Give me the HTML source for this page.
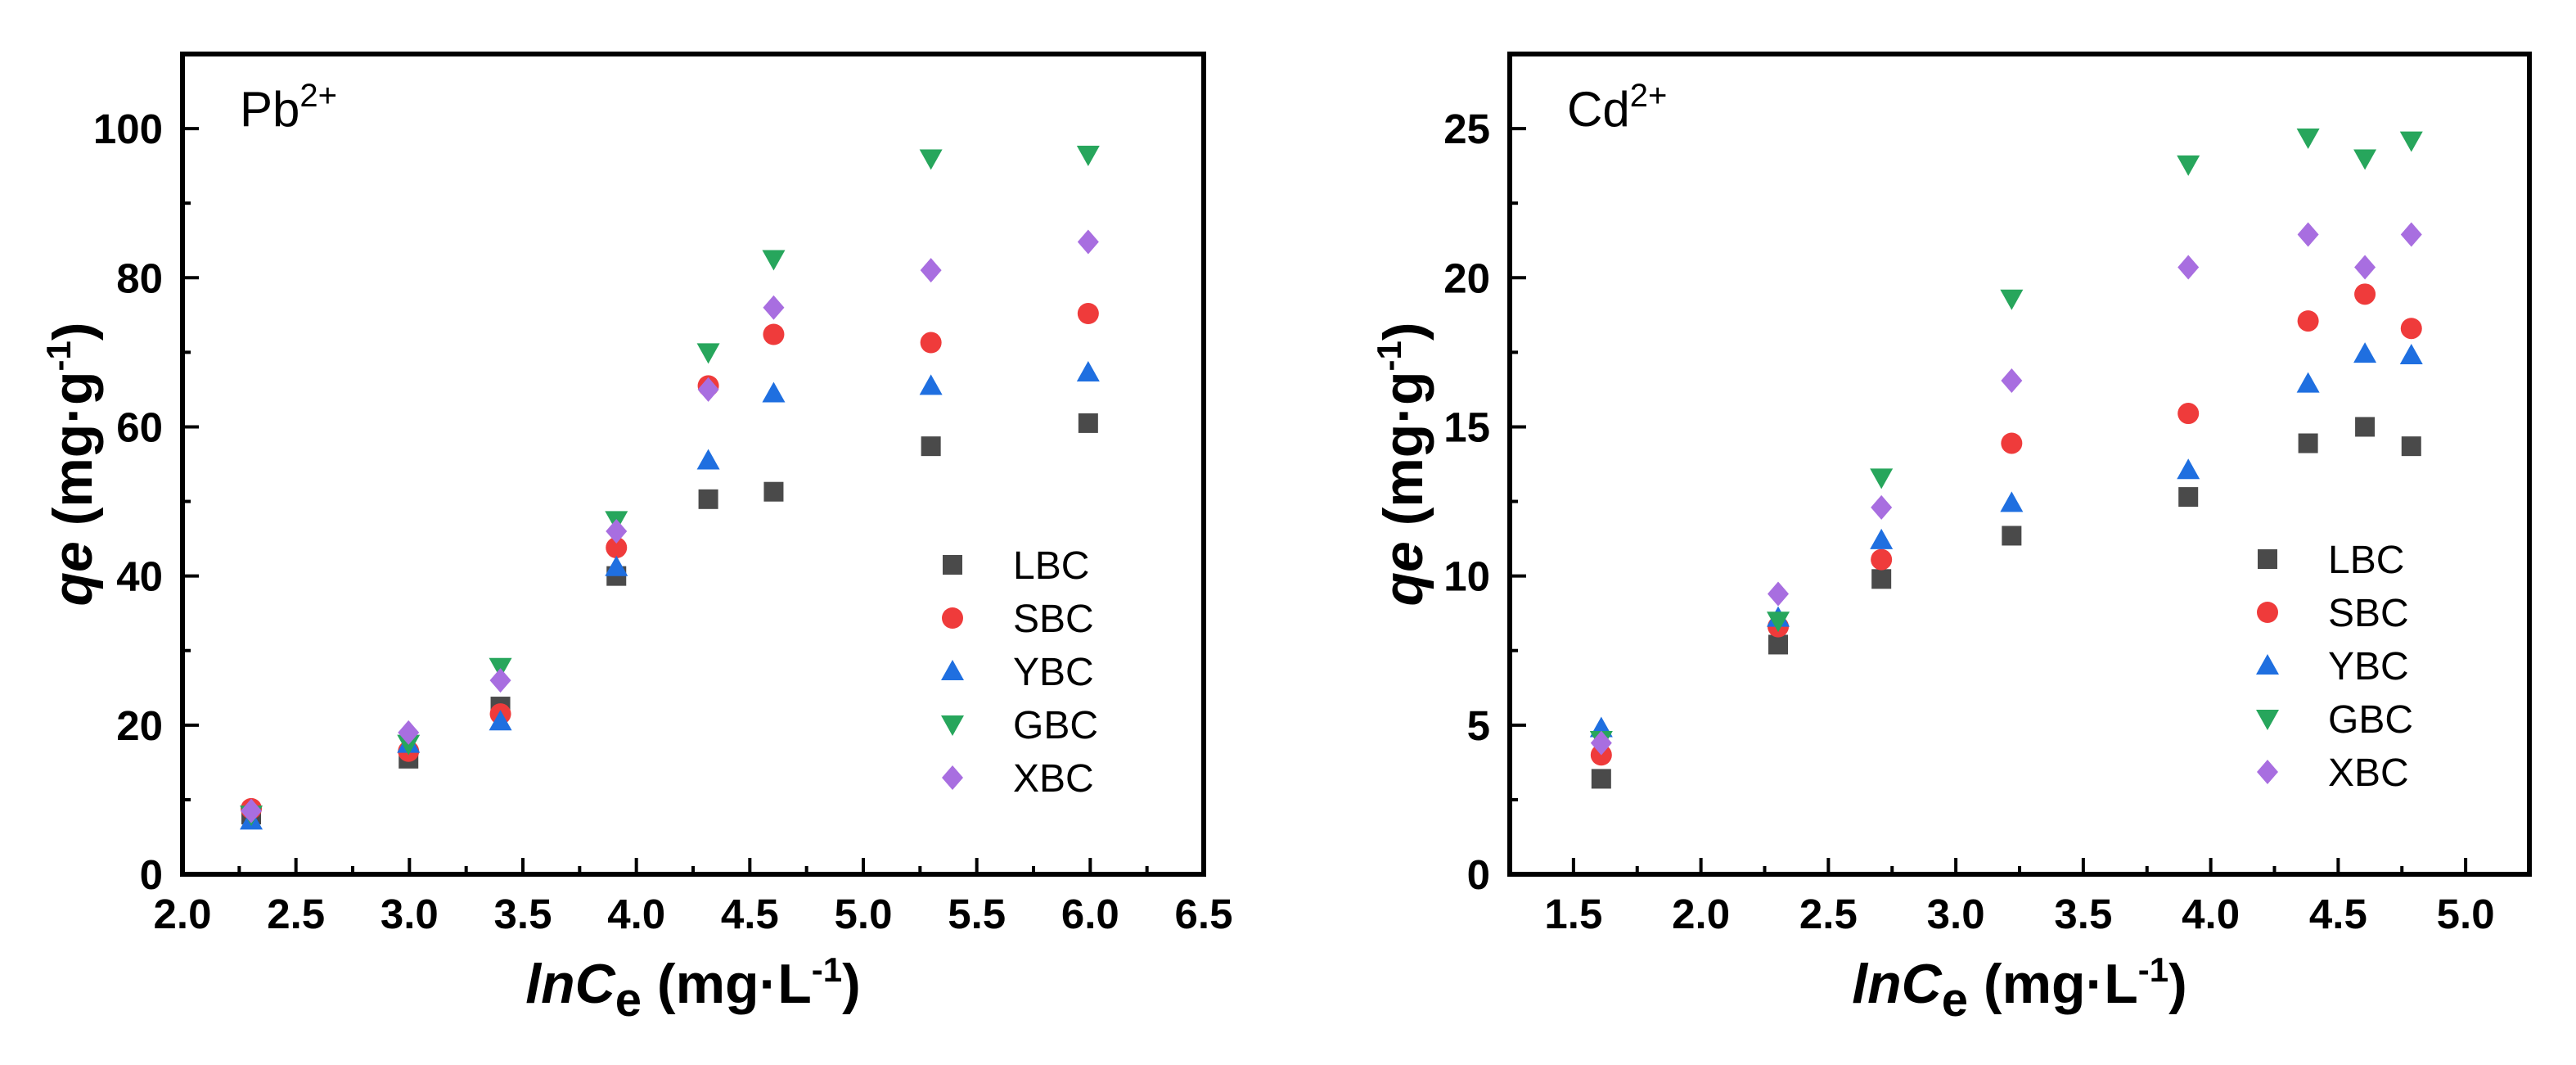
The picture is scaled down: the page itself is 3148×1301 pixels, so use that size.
<!DOCTYPE html>
<html><head><meta charset="utf-8"><style>
html,body{margin:0;padding:0;background:#fff;}
svg{display:block;font-family:"Liberation Sans",Arial,sans-serif;}
</style></head><body>
<svg id="fig" width="3148" height="1301" viewBox="0 0 3148 1301" xmlns="http://www.w3.org/2000/svg"></svg>
<script>
const seriesNames = ["LBC","SBC","YBC","GBC","XBC"];
const seriesColors = ["#4a4a4a","#ef3b3b","#1f6fe0","#27a65c","#a86ee0"];
const seriesShapes = ["square","circle","up","down","diamond"];

const pbX = [2.303,2.996,3.401,3.912,4.317,4.605,5.298,5.991];
const pbLBC = [8.0,15.5,22.5,40.0,50.3,51.3,57.4,60.5];
const pbSBC = [8.8,16.5,21.5,43.8,65.5,72.4,71.3,75.2];
const pbYBC = [7.2,17.5,20.5,41.2,55.5,64.5,65.5,67.3];
const pbGBC = [8.0,17.5,27.8,47.5,70.0,82.5,96.0,96.5];
const pbXBC = [8.5,19.0,26.0,46.0,65.0,76.0,81.0,84.8];
const pbXTicks = ["2.0","2.5","3.0","3.5","4.0","4.5","5.0","5.5","6.0","6.5"];
const pbYTicks = ["0","20","40","60","80","100"];

const cdX = [1.609,2.303,2.708,3.219,3.912,4.382,4.605,4.787];
const cdLBC = [3.2,7.7,9.9,11.35,12.65,14.45,15.0,14.35];
const cdSBC = [4.0,8.3,10.55,14.45,15.45,18.55,19.45,18.3];
const cdYBC = [4.9,8.6,11.2,12.45,13.55,16.45,17.45,17.4];
const cdGBC = [4.5,8.5,13.3,19.3,23.8,24.7,24.0,24.6];
const cdXBC = [4.4,9.4,12.3,16.55,20.35,21.45,20.35,21.45];
const cdXTicks = ["1.5","2.0","2.5","3.0","3.5","4.0","4.5","5.0"];
const cdYTicks = ["0","5","10","15","20","25"];

const NS="http://www.w3.org/2000/svg";
const svg=document.getElementById('fig');
function mk(tag,attrs,parent){const e=document.createElementNS(NS,tag);for(const k in attrs)e.setAttribute(k,attrs[k]);(parent||svg).appendChild(e);return e;}

function marker(g,shape,cx,cy,color){
  const s=13;let e;
  if(shape==="square")e=mk('rect',{x:cx-s+1,y:cy-s+1,width:2*s-2,height:2*s-2,fill:color},g);
  else if(shape==="circle")e=mk('circle',{cx:cx,cy:cy,r:s,fill:color},g);
  else if(shape==="up")e=mk('polygon',{points:`${cx},${cy-s-1} ${cx+s+1},${cy+s-2} ${cx-s-1},${cy+s-2}`,fill:color},g);
  else if(shape==="down")e=mk('polygon',{points:`${cx},${cy+s+1} ${cx+s+1},${cy-s+2} ${cx-s-1},${cy-s+2}`,fill:color},g);
  else e=mk('polygon',{points:`${cx},${cy-s-2} ${cx+s},${cy} ${cx},${cy+s+2} ${cx-s},${cy}`,fill:color},g);
  return e;
}

function chart(cfg){
  const g=mk('g',{});
  
  
  const L=cfg.left,R=cfg.right,T=66,B=1068;
  const sx=v=>L+(v-cfg.xmin)/(cfg.xmax-cfg.xmin)*(R-L);
  const sy=v=>B-(v-cfg.ymin)/(cfg.ymax-cfg.ymin)*(B-T);
  cfg.xTicks.forEach((t,i)=>{
    const v=parseFloat(t),x=sx(v);
    const tk=mk('line',{x1:x,x2:x,y1:B,y2:B-20,stroke:'#000','stroke-width':4},g);
    
    
    const lb=mk('text',{x:x,y:B+66,'text-anchor':'middle','font-size':51,'font-weight':'bold'},g);
    lb.textContent=t;
    
    
    if(i<cfg.xTicks.length-1){const m=sx(v+cfg.xstep/2);
      const mt=mk('line',{x1:m,x2:m,y1:B,y2:B-10,stroke:'#000','stroke-width':4},g);
      
      }
  });
  if(cfg.xmin<parseFloat(cfg.xTicks[0])){const m=sx(parseFloat(cfg.xTicks[0])-cfg.xstep/2);
    if(m>L){const mt=mk('line',{x1:m,x2:m,y1:B,y2:B-10,stroke:'#000','stroke-width':4},g);
      
      }}
  cfg.yTicks.forEach((t,i)=>{
    const v=parseFloat(t),y=sy(v);
    const tk=mk('line',{x1:L,x2:L+20,y1:y,y2:y,stroke:'#000','stroke-width':4},g);
    
    
    const lb=mk('text',{x:L-24,y:y+18,'text-anchor':'end','font-size':51,'font-weight':'bold'},g);
    lb.textContent=t;
    
    
    const m=sy(v+cfg.ystep/2);
    if(m>T){const mt=mk('line',{x1:L,x2:L+10,y1:m,y2:m,stroke:'#000','stroke-width':4},g);
      
      }
  });
  const fr=mk('rect',{x:L,y:T,width:R-L,height:B-T,fill:'none',stroke:'#000','stroke-width':6},g);
  
  
  cfg.series.forEach((vals,si)=>{
    const sg=mk('g',{},g);
    
    
    vals.forEach((v,i)=>{
      const p=marker(sg,seriesShapes[si],sx(cfg.xs[i]),sy(v),seriesColors[si]);
      
      
    });
  });
  const lg=mk('g',{},g);
  
  
  seriesNames.forEach((n,i)=>{
    const y=cfg.legY+i*65;
    const e=mk('g',{},lg);
    
    
    marker(e,seriesShapes[i],cfg.legX,y,seriesColors[i]);
    const t=mk('text',{x:cfg.legX+74,y:y+17,'font-size':48},e);
    t.textContent=n;
  });
  const il=mk('text',{x:L+70,y:154,'font-size':60},g);
  il.innerHTML=cfg.ion+'<tspan dy="-24" font-size="40">2+</tspan>';
  
  
  const xt=mk('text',{x:(L+R)/2,y:1225,'text-anchor':'middle','font-size':68,'font-weight':'bold'},g);
  xt.innerHTML='<tspan font-style="italic">lnC</tspan><tspan dy="16" font-size="58">e</tspan><tspan dy="-16"> (mg·L</tspan><tspan dy="-26" font-size="42">-1</tspan><tspan dy="26">)</tspan>';
  
  
  const yt=mk('text',{x:0,y:0,'text-anchor':'middle','font-size':68,'font-weight':'bold',transform:`translate(${cfg.ytX},567) rotate(-90)`},g);
  yt.innerHTML='<tspan font-style="italic">qe</tspan><tspan> (mg·g</tspan><tspan dy="-26" font-size="42">-1</tspan><tspan dy="26">)</tspan>';
  
  
}

chart({name:'pb-chart',left:223,right:1471,xmin:2.0,xmax:6.5,xstep:0.5,ymin:0,ymax:110,ystep:20,
  xTicks:pbXTicks,yTicks:pbYTicks,xs:pbX,series:[pbLBC,pbSBC,pbYBC,pbGBC,pbXBC],
  legX:1164,legY:690,ion:'Pb',ytX:112});
chart({name:'cd-chart',left:1845,right:3091,xmin:1.25,xmax:5.25,xstep:0.5,ymin:0,ymax:27.5,ystep:5,
  xTicks:cdXTicks,yTicks:cdYTicks,xs:cdX,series:[cdLBC,cdSBC,cdYBC,cdGBC,cdXBC],
  legX:2771,legY:683,ion:'Cd',ytX:1738});
</script>
</body></html>
